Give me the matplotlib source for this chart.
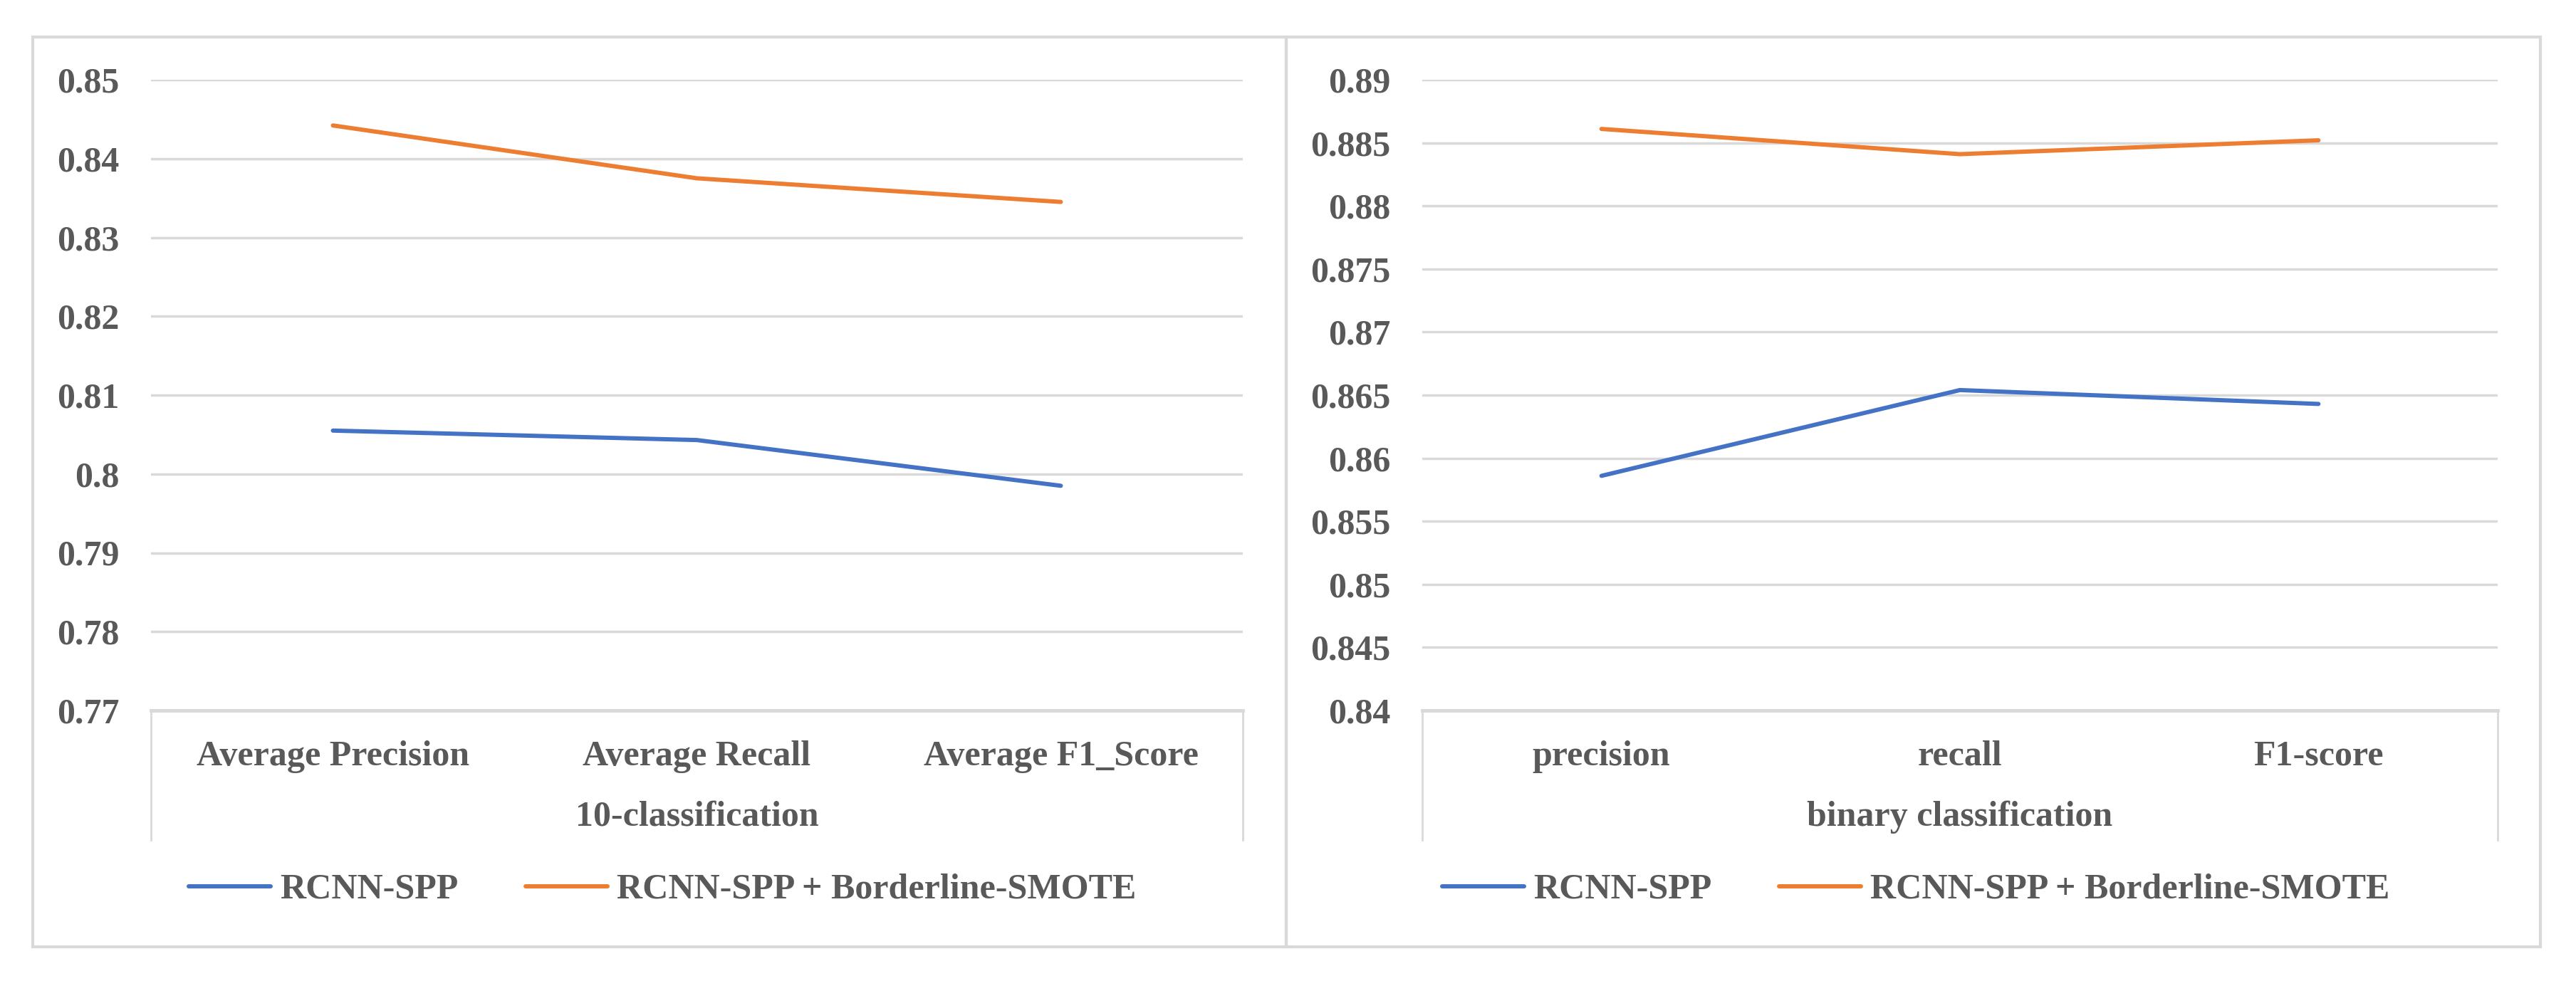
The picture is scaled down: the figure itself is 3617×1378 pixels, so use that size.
import matplotlib
matplotlib.use('Agg')
import matplotlib.pyplot as plt
from matplotlib.patches import Rectangle
from matplotlib.ticker import FuncFormatter

plt.rcParams['font.family'] = ['Liberation Serif', 'DejaVu Serif']
plt.rcParams['font.weight'] = 'bold'

series_names = ['RCNN-SPP', 'RCNN-SPP + Borderline-SMOTE']

# 10-classification
multi_cats = ['Average Precision', 'Average Recall', 'Average F1_Score']
multi_base = [0.8055, 0.8043, 0.7985]
multi_smote = [0.8442, 0.8375, 0.8345]
multi_ticks = [0.77, 0.78, 0.79, 0.80, 0.81, 0.82, 0.83, 0.84, 0.85]

# binary classification
bin_cats = ['precision', 'recall', 'F1-score']
bin_base = [0.8586, 0.8654, 0.8643]
bin_smote = [0.8861, 0.8841, 0.8852]
bin_ticks = [0.84, 0.845, 0.85, 0.855, 0.86, 0.865, 0.87, 0.875, 0.88, 0.885, 0.89]

BLUE = '#4472C4'
ORANGE = '#ED7D31'
GRID = '#D9D9D9'
TEXT = '#595959'

W, H = 3617, 1378
fig = plt.figure(figsize=(W / 100, H / 100), dpi=100)

# outer chart frames
for x0, x1 in [(46, 1806), (1806, 3567)]:
    fig.add_artist(Rectangle((x0 / W, 1 - 1330 / H), (x1 - x0) / W, (1330 - 52) / H,
                             transform=fig.transFigure, fill=False,
                             edgecolor=GRID, linewidth=3))


def draw_panel(rect, cats, base, smote, ticks, title, legend_x):
    ax = fig.add_axes(rect)
    x = list(range(len(cats)))
    ax.plot(x, base, color=BLUE, linewidth=4.3, solid_capstyle='round', label=series_names[0])
    ax.plot(x, smote, color=ORANGE, linewidth=4.3, solid_capstyle='round', label=series_names[1])

    ax.set_xlim(-0.5, len(cats) - 0.5)
    ax.set_ylim(ticks[0], ticks[-1])
    ax.set_yticks(ticks)
    ax.yaxis.set_major_formatter(FuncFormatter(lambda v, p: f'{round(v, 4):g}'))
    ax.set_xticks(x)
    ax.set_xticklabels(cats)
    ax.tick_params(axis='y', length=0, pad=32, labelsize=36, labelcolor=TEXT)
    ax.tick_params(axis='x', length=0, pad=30, labelsize=36, labelcolor=TEXT)

    ax.grid(axis='y', color=GRID, linewidth=2.5)
    ax.set_axisbelow(True)
    for s in ax.spines.values():
        s.set_visible(False)

    # category box under the plot area
    ax.plot([0, 0], [0, -0.205], transform=ax.transAxes, color=GRID, linewidth=2, clip_on=False)
    ax.plot([1, 1], [0, -0.205], transform=ax.transAxes, color=GRID, linewidth=2, clip_on=False)
    ax.plot([0, 1], [0, 0], transform=ax.transAxes, color=GRID, linewidth=3.5, clip_on=False)

    ax.text(0.5, -0.169, title, transform=ax.transAxes, ha='center', va='center',
            fontsize=36, color=TEXT)

    fig.legend(handles=ax.get_lines()[:2], labels=series_names, loc='center',
               bbox_to_anchor=(legend_x, 1 - 1250 / H), ncol=2, frameon=False,
               fontsize=36, labelcolor=TEXT, handlelength=2.3, handletextpad=0.25,
               columnspacing=1.9)
    return ax


top = 1 - 112 / H
bottom = 1 - 998 / H
draw_panel([212 / W, bottom, (1745 - 212) / W, top - bottom],
           multi_cats, multi_base, multi_smote, multi_ticks, '10-classification', 930 / W)
draw_panel([1997 / W, bottom, (3507 - 1997) / W, top - bottom],
           bin_cats, bin_base, bin_smote, bin_ticks, 'binary classification', 2690 / W)

fig.savefig('out.png', dpi=100, facecolor='white')
